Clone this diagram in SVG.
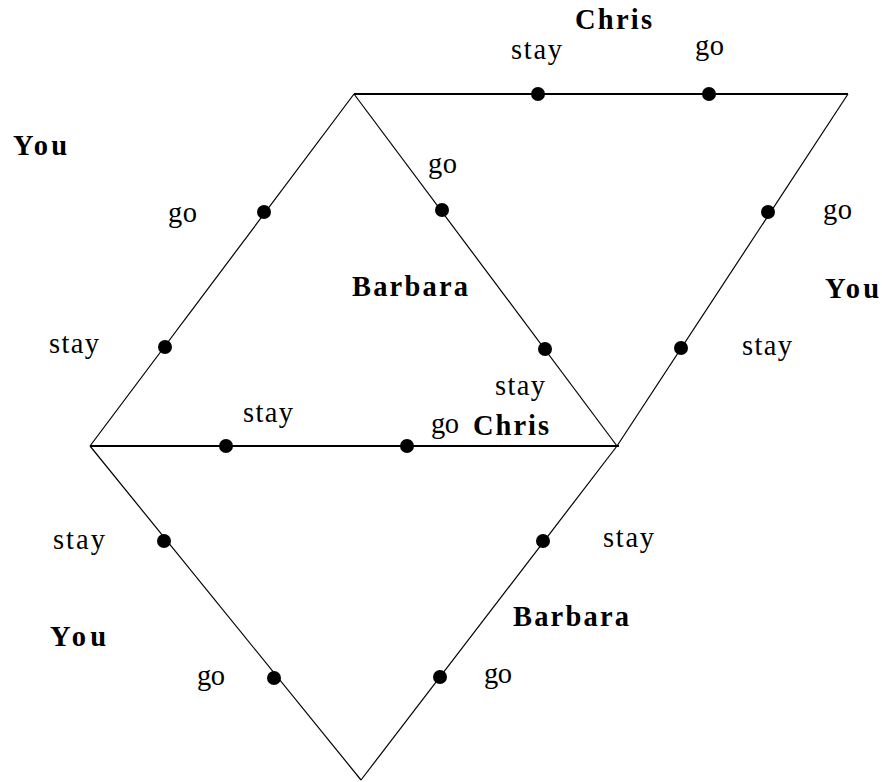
<svg xmlns="http://www.w3.org/2000/svg" width="882" height="782" viewBox="0 0 882 782">
<style>
.h{stroke:#000;stroke-width:2;fill:none}
.d{stroke:#000;stroke-width:1.2;fill:none}
.dot{fill:#000}
.lab{font-family:"Liberation Serif","Times New Roman",serif;font-size:28.5px;fill:#000}
.pl{font-family:"Liberation Serif","Times New Roman",serif;font-size:28.5px;font-weight:bold;fill:#000}
</style>
<rect width="882" height="782" fill="#fff"/>
<g id="connectors">
<line class="h" x1="354" y1="94" x2="848" y2="94"/>
<line class="h" x1="90" y1="446" x2="619" y2="446"/>
<line class="d" x1="354" y1="94" x2="90" y2="446"/>
<line class="d" x1="354" y1="94" x2="617" y2="446"/>
<line class="d" x1="848" y1="94" x2="617" y2="446"/>
<line class="d" x1="90" y1="446" x2="361" y2="780"/>
<line class="d" x1="617" y1="446" x2="361" y2="780"/>
</g>
<g id="player-chris-top"><text class="pl" x="575" y="29" textLength="77">Chris</text></g>
<g id="player-you-left"><text class="pl" x="13" y="155" textLength="54">You</text></g>
<g id="player-barbara-mid"><text class="pl" x="352" y="296" textLength="116">Barbara</text></g>
<g id="player-chris-mid"><text class="pl" x="473" y="435" textLength="76">Chris</text></g>
<g id="player-you-right"><text class="pl" x="825" y="298" textLength="54">You</text></g>
<g id="player-you-bottom"><text class="pl" x="50" y="646" textLength="56">You</text></g>
<g id="player-barbara-bottom"><text class="pl" x="513" y="626" textLength="116">Barbara</text></g>

<g id="n-top-stay"><circle class="dot" cx="538" cy="94" r="7"/><text class="lab" x="511" y="59" textLength="51">stay</text></g>
<g id="n-top-go"><circle class="dot" cx="709" cy="94" r="7"/><text class="lab" x="695" y="55" textLength="29">go</text></g>
<g id="n-left-go"><circle class="dot" cx="264" cy="212" r="7"/><text class="lab" x="168" y="222" textLength="29">go</text></g>
<g id="n-left-stay"><circle class="dot" cx="165" cy="347" r="7"/><text class="lab" x="49" y="353" textLength="50">stay</text></g>
<g id="n-mid-go"><circle class="dot" cx="442" cy="210" r="7"/><text class="lab" x="428" y="173" textLength="29">go</text></g>
<g id="n-mid-stay"><circle class="dot" cx="545" cy="349" r="7"/><text class="lab" x="495" y="395" textLength="50">stay</text></g>
<g id="n-right-go"><circle class="dot" cx="768" cy="212" r="7"/><text class="lab" x="823" y="219" textLength="29">go</text></g>
<g id="n-right-stay"><circle class="dot" cx="681" cy="348" r="7"/><text class="lab" x="742" y="355" textLength="50">stay</text></g>
<g id="n-cd-stay"><circle class="dot" cx="226" cy="446" r="7"/><text class="lab" x="243" y="422" textLength="50">stay</text></g>
<g id="n-cd-go"><circle class="dot" cx="407" cy="446" r="7"/><text class="lab" x="431" y="433" textLength="28">go</text></g>
<g id="n-bl-stay"><circle class="dot" cx="164" cy="541" r="7"/><text class="lab" x="53" y="549" textLength="52">stay</text></g>
<g id="n-bl-go"><circle class="dot" cx="274" cy="678" r="7"/><text class="lab" x="197" y="685" textLength="28">go</text></g>
<g id="n-br-stay"><circle class="dot" cx="543" cy="541" r="7"/><text class="lab" x="603" y="547" textLength="51">stay</text></g>
<g id="n-br-go"><circle class="dot" cx="440" cy="677" r="7"/><text class="lab" x="484" y="683" textLength="28">go</text></g>
</svg>
